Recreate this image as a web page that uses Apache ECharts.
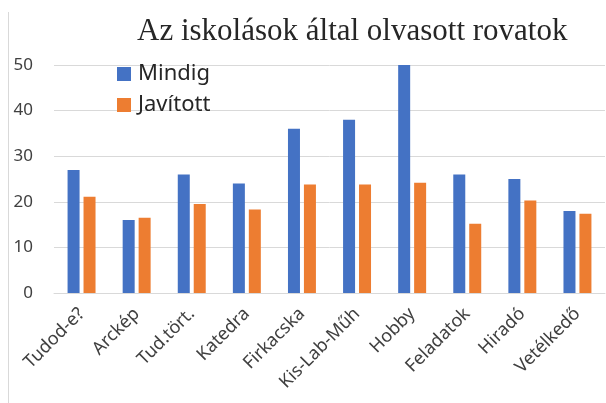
<!DOCTYPE html>
<html>
<head>
<meta charset="utf-8">
<script src="https://cdn.jsdelivr.net/npm/echarts@6/dist/echarts.min.js"></script>
<style>
  html, body { margin: 0; padding: 0; background: #fff; }
  #main { width: 606px; height: 403px; }
</style>
</head>
<body>
<div id="main"></div>
<script>
// rovatok (sections)
var categories = ['Tudod-e?', 'Arckép', 'Tud.tört.', 'Katedra', 'Firkacska',
                  'Kis-Lab-Műh', 'Hobby', 'Feladatok', 'Hiradó', 'Vetélkedő'];
var mindig   = [27, 16, 26, 24, 36, 38, 50, 26, 25, 18];
var javitott = [21.1, 16.5, 19.5, 18.3, 23.8, 23.8, 24.2, 15.2, 20.3, 17.4];
var yTicks = { min: 0, max: 50, interval: 10 };

var myChart = echarts.init(document.getElementById('main'));

var option = {
  animation: false,
  backgroundColor: '#fff',
  title: {
    text: 'Az iskolások által olvasott rovatok',
    left: 137,
    top: 16,
    padding: 0,
    textStyle: {
      fontFamily: 'Liberation Serif',
      fontWeight: 'normal',
      fontSize: 31,
      color: '#262626'
    }
  },
  legend: {
    orient: 'vertical',
    left: 117,
    top: 63,
    padding: 0,
    icon: 'rect',
    itemWidth: 14,
    itemHeight: 14,
    itemGap: 9,
    data: ['Mindig', 'Javított'],
    textStyle: {
      fontFamily: 'Noto Sans',
      fontSize: 22,
      lineHeight: 22,
      color: '#262626',
      padding: [0, 0, 0, 2]
    }
  },
  graphic: [{
    type: 'line',
    shape: { x1: 8.5, y1: 12, x2: 8.5, y2: 403 },
    style: { stroke: '#d9d9d9', lineWidth: 1 }
  }],
  grid: { left: 54, right: 1, top: 65, bottom: 110 },
  xAxis: {
    type: 'category',
    data: categories,
    axisTick: { show: false },
    axisLine: { lineStyle: { color: '#d9d9d9', width: 1 } },
    axisLabel: {
      rotate: 45,
      margin: 18,
      interval: 0,
      fontFamily: 'Noto Sans',
      fontSize: 18,
      color: '#404040'
    }
  },
  yAxis: {
    type: 'value',
    min: yTicks.min,
    max: yTicks.max,
    interval: yTicks.interval,
    axisLine: { show: false },
    axisTick: { show: false },
    splitLine: { lineStyle: { color: '#d9d9d9', width: 1 } },
    axisLabel: {
      margin: 21,
      fontFamily: 'Noto Sans',
      fontSize: 17,
      color: '#404040'
    }
  },
  series: [{
    name: 'Mindig',
    type: 'bar',
    data: mindig,
    barWidth: 12,
    barGap: '33%',
    itemStyle: { color: '#4472C4' }
  }, {
    name: 'Javított',
    type: 'bar',
    data: javitott,
    barWidth: 12,
    itemStyle: { color: '#ED7D31' }
  }]
};
myChart.setOption(option);
</script>
</body>
</html>
